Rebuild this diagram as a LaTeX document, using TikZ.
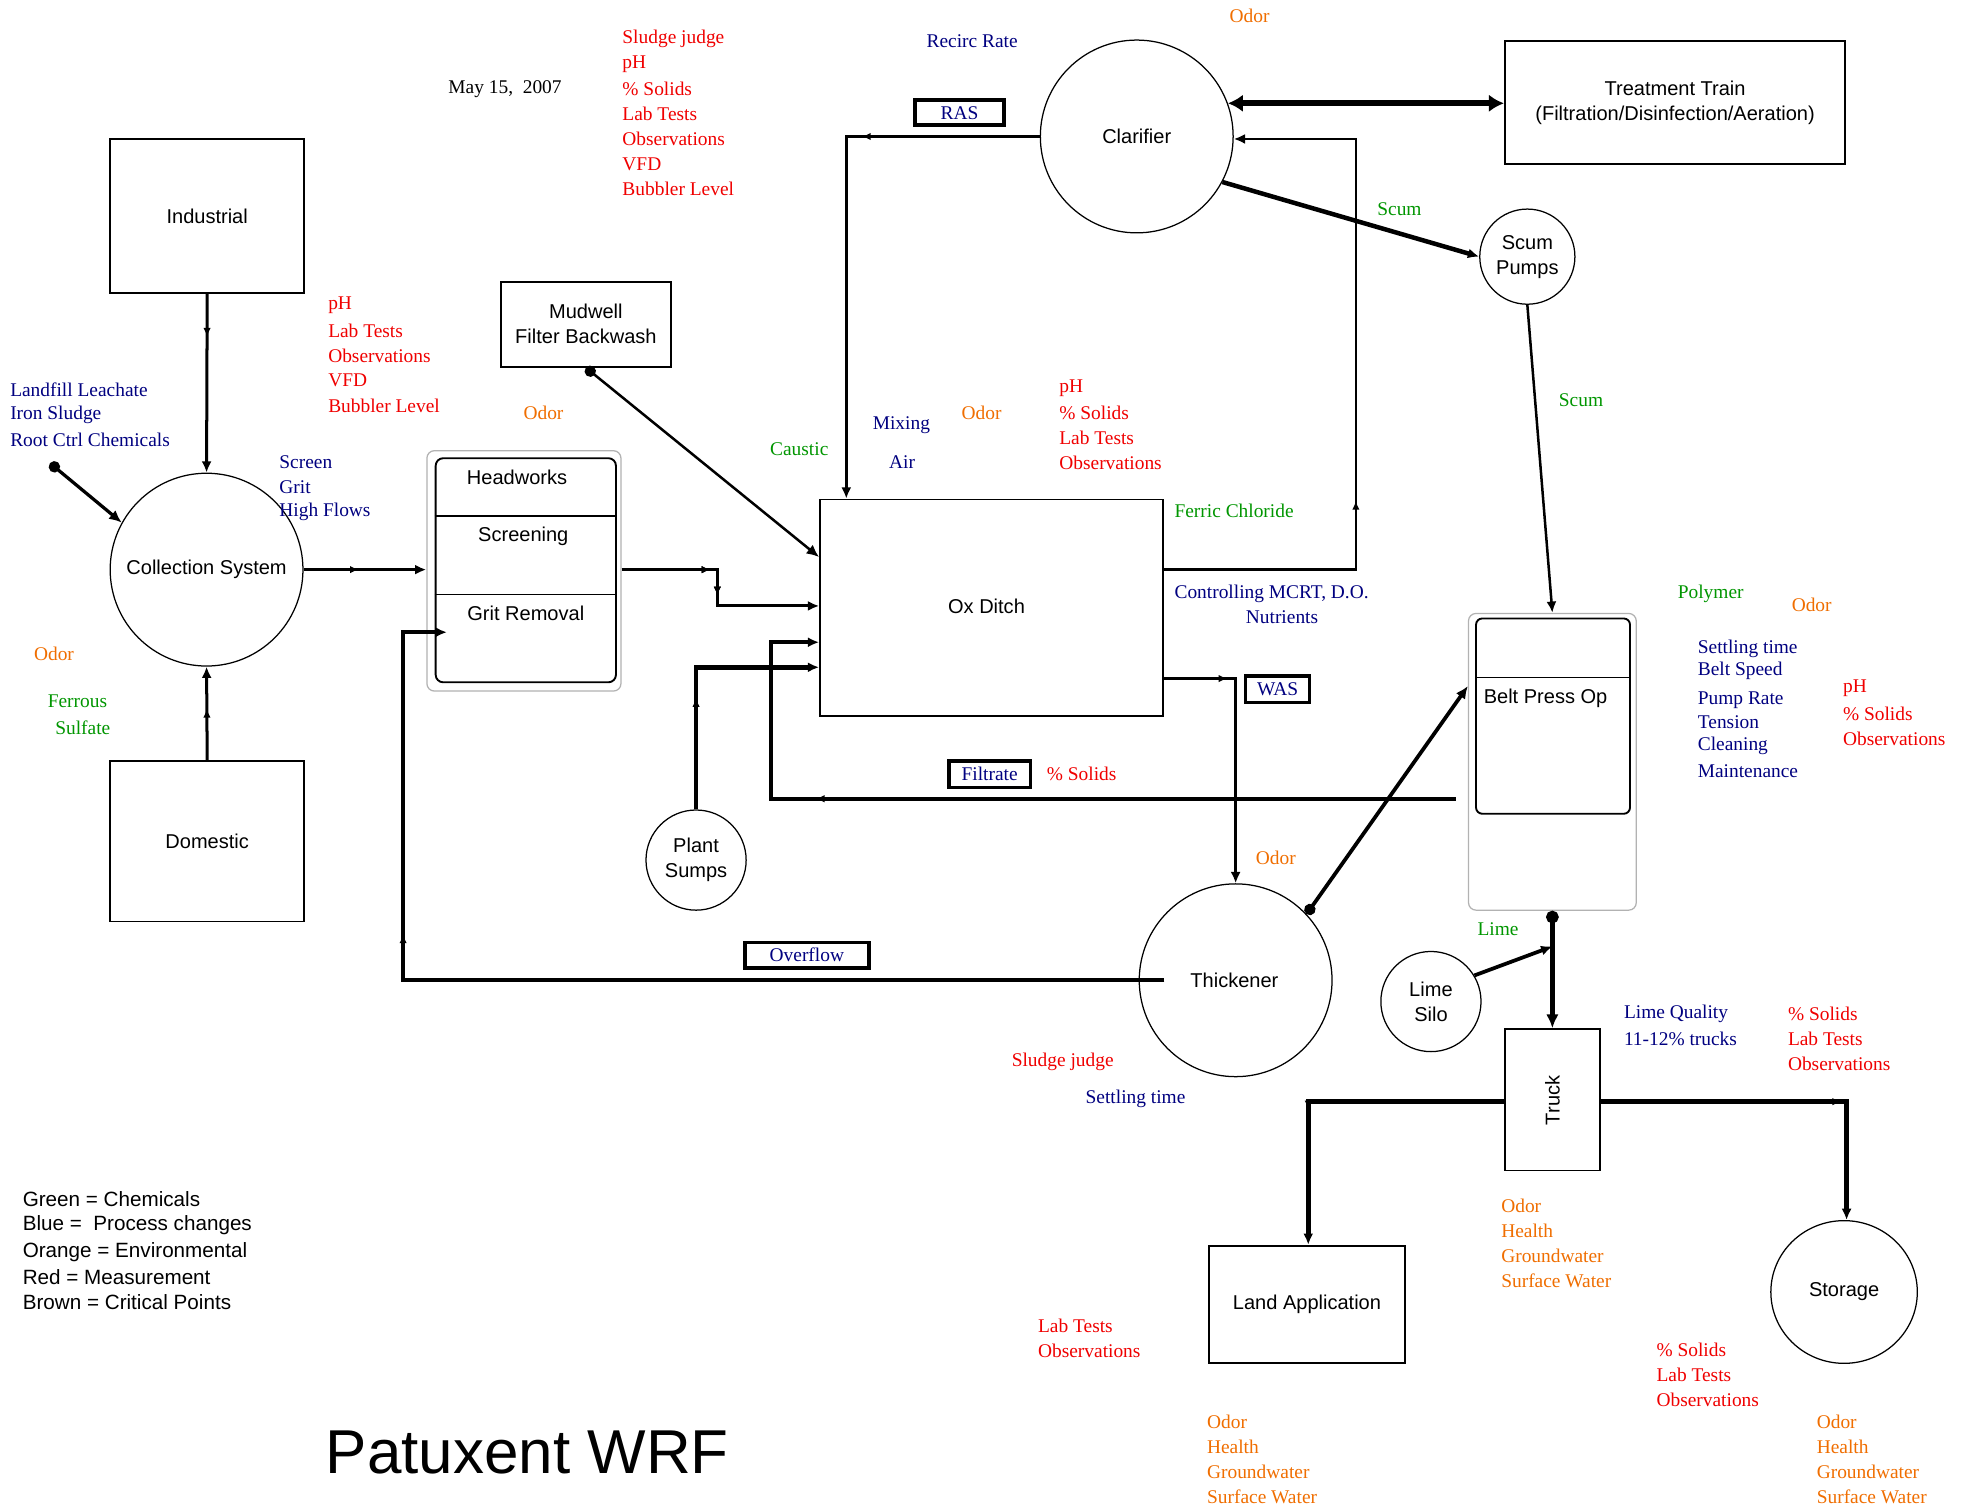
\documentclass[tikz,border=0pt]{standalone}
\usepackage{fontspec}
\setmainfont{Liberation Serif}
\setsansfont{Liberation Sans}
\usetikzlibrary{arrows.meta,shapes.geometric,decorations.markings,calc}
\definecolor{cred}{RGB}{240,0,0}
\definecolor{cblue}{RGB}{0,0,128}
\definecolor{cgreen}{RGB}{0,150,0}
\definecolor{corange}{RGB}{240,110,0}
\newcommand\labs[5]{\foreach \t [count=\i from 0] in {#5}{\node[lbl,text=#4] (#1\i) at (#2,#3+20*\i) {\t};}}
\begin{document}
\begin{tikzpicture}[x=1pt,y=-1pt,
  box/.style={draw,line width=1.4pt,inner sep=0pt,font=\sffamily\fontsize{16}{20}\selectfont,align=center},
  circ/.style={circle,draw,line width=1pt,inner sep=0pt,font=\sffamily\fontsize{16}{20}\selectfont,align=center},
  lbl/.style={anchor=west,inner sep=0pt,font=\rmfamily\fontsize{15.5}{20}\selectfont},
  sans/.style={anchor=west,inner sep=0pt,font=\sffamily\fontsize{16}{20}\selectfont},
  legend/.style={anchor=west,inner sep=0pt,font=\sffamily\fontsize{16.5}{20}\selectfont},
  tag/.style={draw,line width=2.8pt,inner sep=0pt,text=cblue,font=\rmfamily\fontsize{15.5}{20}\selectfont},
  tip/.style={-{Latex[length=9pt,width=8pt]}},
  conn/.style={line width=2pt,tip},
  midarr/.style={postaction={decorate},decoration={markings,mark=at position #1 with {\arrow{Latex[length=7pt,width=6pt]}}}},
  dotstart/.style={line width=2.4pt,{Circle[length=9pt]}-{Latex[length=10pt,width=9pt]}}
]
\useasboundingbox (0,0) rectangle (1568,1203);
\fill[white] (0,0) rectangle (1568,1203);

% ---------- main nodes ----------
\node[box,minimum width=155pt,minimum height=123pt] (ind) at (165.5,172.5) {Industrial};
\node[circ,minimum size=154pt] (coll) at (165,455) {Collection System};
\node[box,minimum width=155pt,minimum height=128pt] (dom) at (165.5,672) {Domestic};
\node[box,minimum width=136pt,minimum height=68pt] (mud) at (468,259) {Mudwell\\Filter Backwash};

% headworks group
\node[draw=gray!60,line width=1pt,rounded corners=6pt,minimum width=155pt,minimum height=192pt,inner sep=0pt] (hwo) at (418.5,456) {};
\node[draw,line width=1.5pt,rounded corners=6pt,minimum width=144pt,minimum height=179pt,inner sep=0pt] (hwi) at (420,455.5) {};
\draw[line width=1.2pt] (hwi.west|-0,412) coordinate (hwd1) -- (hwi.east|-0,412);
\draw[line width=1.2pt] (hwi.west|-0,475) coordinate (hwd2) -- (hwi.east|-0,475);
\node[sans,anchor=center] (hwt1) at (413,381) {Headworks};
\node[sans,anchor=center] (hwt2) at (418,428) {Screening};
\node[sans,anchor=center] (hwt3) at (420,490) {Grit Removal};

\node[box,minimum width=274pt,minimum height=173pt] (ox) at (792,485.5) {};
\node[sans,anchor=center] (oxt) at (788,484) {Ox Ditch};
\node[circ,minimum size=154pt] (clar) at (908,109) {Clarifier};
\node[box,minimum width=272pt,minimum height=98pt] (tt) at (1338,82) {Treatment Train\\(Filtration/Disinfection/Aeration)};
\node[circ,minimum size=76pt] (scum) at (1220,205) {Scum\\Pumps};
\node[circ,minimum size=80pt] (sumps) at (556,687) {Plant\\Sumps};
\node[circ,minimum size=154pt] (thick) at (987,783) {};
\node[sans,anchor=center] (thickt) at (986,783) {Thickener};

% belt press group
\node[draw=gray!60,line width=1pt,rounded corners=6pt,minimum width=134pt,minimum height=237pt,inner sep=0pt] (bpo) at (1240,608.5) {};
\node[draw,line width=1.5pt,rounded corners=5pt,minimum width=123pt,minimum height=156pt,inner sep=0pt] (bpi) at (1240.5,572) {};
\draw[line width=1.2pt] (bpi.west|-0,541) coordinate (bpd) -- (bpi.east|-0,541);
\node[sans] (bpt) at (1185,558) {Belt Press Op};

\node[circ,minimum size=80pt] (silo) at (1143,800) {Lime\\Silo};
\node[box,minimum width=76pt,minimum height=113pt] (truck) at (1240,878.5) {};
\node[sans,anchor=center,rotate=90] (truckt) at (1240,879) {Truck};
\node[box,minimum width=156pt,minimum height=94pt] (land) at (1044,1042) {Land Application};
\node[ellipse,draw,line width=1pt,minimum width=117pt,minimum height=114pt,inner sep=0pt,font=\sffamily\fontsize{16}{20}\selectfont] (stor) at (1473,1032) {Storage};

% tags
\node[tag,minimum width=71pt,minimum height=20pt] (ras) at (766.5,90) {RAS};
\node[tag,minimum width=51pt,minimum height=21pt] (was) at (1020.5,550.5) {WAS};
\node[tag,minimum width=65pt,minimum height=21pt] (filt) at (790.5,618.5) {Filtrate};
\node[tag,minimum width=99pt,minimum height=20pt] (ovf) at (644.5,763) {Overflow};

% ---------- connectors ----------
\draw[line width=2.4pt,tip,midarr=0.24] (ind.south) -- (coll.north);
\draw[line width=2.4pt,tip,midarr=0.55] (dom.north) -- (coll.south);
\coordinate (lfdot) at (40,370);
\draw[dotstart,line width=2.6pt] (lfdot) -- (coll.151);
\draw[line width=2.4pt,tip,midarr=0.45] (coll.east) -- (hwo.west|-coll.east);
\coordinate (hwc1) at (573,455);
\coordinate (hwc2) at (573,484);
\draw[line width=2.4pt,tip,midarr=0.38,midarr=0.52] (hwo.east|-hwc1) -- (hwc1) -- (hwc2) -- (ox.west|-hwc2);
\draw[dotstart,line width=2pt] (mud.south) -- (ox.west|-0,445);
\coordinate (rasc) at (676,109);
\draw[conn,midarr=0.32] (clar.west) -- (rasc) -- (ox.north-|rasc);
\coordinate (retc1) at (1083,455);
\coordinate (retc2) at (1083,111);
\draw[conn,midarr=0.35] (ox.east|-retc1) -- (retc1) -- (retc2) -- (clar.east|-retc2);
\draw[line width=5pt,{Latex[length=12pt,width=14pt]}-{Latex[length=12pt,width=14pt]}] (clar.20) -- (tt.west|-clar.20);
\draw[line width=3.6pt,tip] (clar.-28) -- (scum.west);
\draw[conn] (scum.south) -- (bpo.north);
\coordinate (wasc) at (987,542);
\draw[line width=2.6pt,tip,midarr=0.23] (ox.east|-wasc) -- (wasc) -- (thick.north);
\coordinate (filts) at (1163,638);
\coordinate (filtc1) at (616,638);
\coordinate (filtc2) at (616,513);
\draw[line width=3.2pt,tip,midarr=0.72] (filts) -- (filtc1) -- (filtc2) -- (ox.west|-filtc2);
\coordinate (sumc) at (556,533);
\draw[line width=3.6pt,tip,midarr=0.42] (sumps.north) -- (sumc) -- (ox.west|-sumc);
\coordinate (ovs) at (930,783);
\coordinate (ovc1) at (322,783);
\coordinate (ovc2) at (322,505);
\draw[line width=3.2pt,tip,midarr=0.7] (ovs) -- (ovc1) -- (ovc2) -- (357,505) coordinate (ove);
\draw[dotstart,line width=3pt] (thick.43) -- (bpo.west|-0,548);
\coordinate (limej) at (1240,756);
\draw[line width=3.6pt,{Circle[length=10pt]}-{Latex[length=11pt,width=10pt]}] (bpo.south) -- (truck.north);
\draw[line width=3pt,tip] (silo.31) -- (limej);
\coordinate (trl) at (1045,880);
\coordinate (trr) at (1475,880);
\draw[line width=3.6pt,tip,midarr=0.6] (truck.west|-trl) -- (trl) -- (land.north-|trl);
\draw[line width=3.6pt,tip,midarr=0.66] (truck.east|-trr) -- (trr) -- (stor.north-|trr);

% ---------- labels ----------
\node[lbl] (date) at (358,71) {May 15, \ 2007};
\labs{rt}{497}{31}{cred}{Sludge judge,pH,\% Solids,Lab Tests,Observations,VFD,Bubbler Level}
\labs{rc}{262}{244}{cred}{pH,Lab Tests,Observations,VFD,Bubbler Level}
\labs{lf}{8}{311}{cblue}{Landfill Leachate,Iron Sludge,Root Ctrl Chemicals}
\labs{sg}{223}{369}{cblue}{Screen,Grit,High Flows}
\node[lbl,text=corange] (od1) at (27,522) {Odor};
\node[lbl,text=cgreen] (fe1) at (38,560) {Ferrous};
\node[lbl,text=cgreen] (fe2) at (44,581) {Sulfate};
\node[lbl,text=corange] (od2) at (418,330) {Odor};
\node[lbl,text=cgreen] (caus) at (615,359) {Caustic};
\node[lbl,text=cblue] (mix) at (697,340) {Mixing};
\node[lbl,text=cblue] (air) at (710,369) {Air};
\node[lbl,text=corange] (od3) at (768,330) {Odor};
\labs{ro}{846}{310}{cred}{pH,\% Solids,Lab Tests,Observations}
\node[lbl,text=cblue] (recirc) at (740,33) {Recirc Rate};
\node[lbl,text=corange] (od4) at (982,13) {Odor};
\node[lbl,text=cgreen] (scum1) at (1100,167) {Scum};
\node[lbl,text=cgreen] (scum2) at (1245,320) {Scum};
\node[lbl,text=cgreen] (ferric) at (938,408) {Ferric Chloride};
\node[lbl,text=cblue] (mcrt) at (938,474) {Controlling MCRT, D.O.};
\node[lbl,text=cblue] (nutr) at (995,493) {Nutrients};
\node[lbl,text=cred] (fsol) at (836,618) {\% Solids};
\node[lbl,text=corange] (od5) at (1003,685) {Odor};
\node[lbl,text=cred] (sjt) at (808,848) {Sludge judge};
\node[lbl,text=cblue] (stt) at (867,878) {Settling time};
\node[lbl,text=cgreen] (poly) at (1340,474) {Polymer};
\node[lbl,text=corange] (od6) at (1431,483) {Odor};
\node[lbl,text=cblue] (bb1) at (1356,518) {Settling time};
\node[lbl,text=cblue] (bb2) at (1356,536) {Belt Speed};
\node[lbl,text=cblue] (bb3) at (1356,559) {Pump Rate};
\node[lbl,text=cblue] (bb4) at (1356,577) {Tension};
\node[lbl,text=cblue] (bb5) at (1356,596) {Cleaning};
\node[lbl,text=cblue] (bb6) at (1356,616) {Maintenance};
\labs{rb}{1472}{550}{cred}{pH,\% Solids,Observations}
\node[lbl,text=cgreen] (lime) at (1180,742) {Lime};
\node[lbl,text=cblue] (lq1) at (1297,810) {Lime Quality};
\node[lbl,text=cblue] (lq2) at (1297,830) {11-12\% trucks};
\labs{rtk}{1428}{810}{cred}{\% Solids,Lab Tests,Observations}
\labs{otk}{1199}{963}{corange}{Odor,Health,Groundwater,Surface Water}
\labs{rla}{829}{1059}{cred}{Lab Tests,Observations}
\labs{rst}{1323}{1078}{cred}{\% Solids,Lab Tests,Observations}
\labs{ola}{964}{1136}{corange}{Odor,Health,Groundwater,Surface Water}
\labs{ost}{1451}{1136}{corange}{Odor,Health,Groundwater,Surface Water}

% legend and title
\node[legend] (lg1) at (18,958) {Green = Chemicals};
\node[legend] (lg2) at (18,979) {Blue = \ Process changes};
\node[legend] (lg3) at (18,1000) {Orange = Environmental};
\node[legend] (lg4) at (18,1020) {Red = Measurement};
\node[legend] (lg5) at (18,1040) {Brown = Critical Points};
\node[sans,font=\sffamily\fontsize{49.5}{56}\selectfont] (title) at (260,1160) {Patuxent WRF};
\end{tikzpicture}
\end{document}
